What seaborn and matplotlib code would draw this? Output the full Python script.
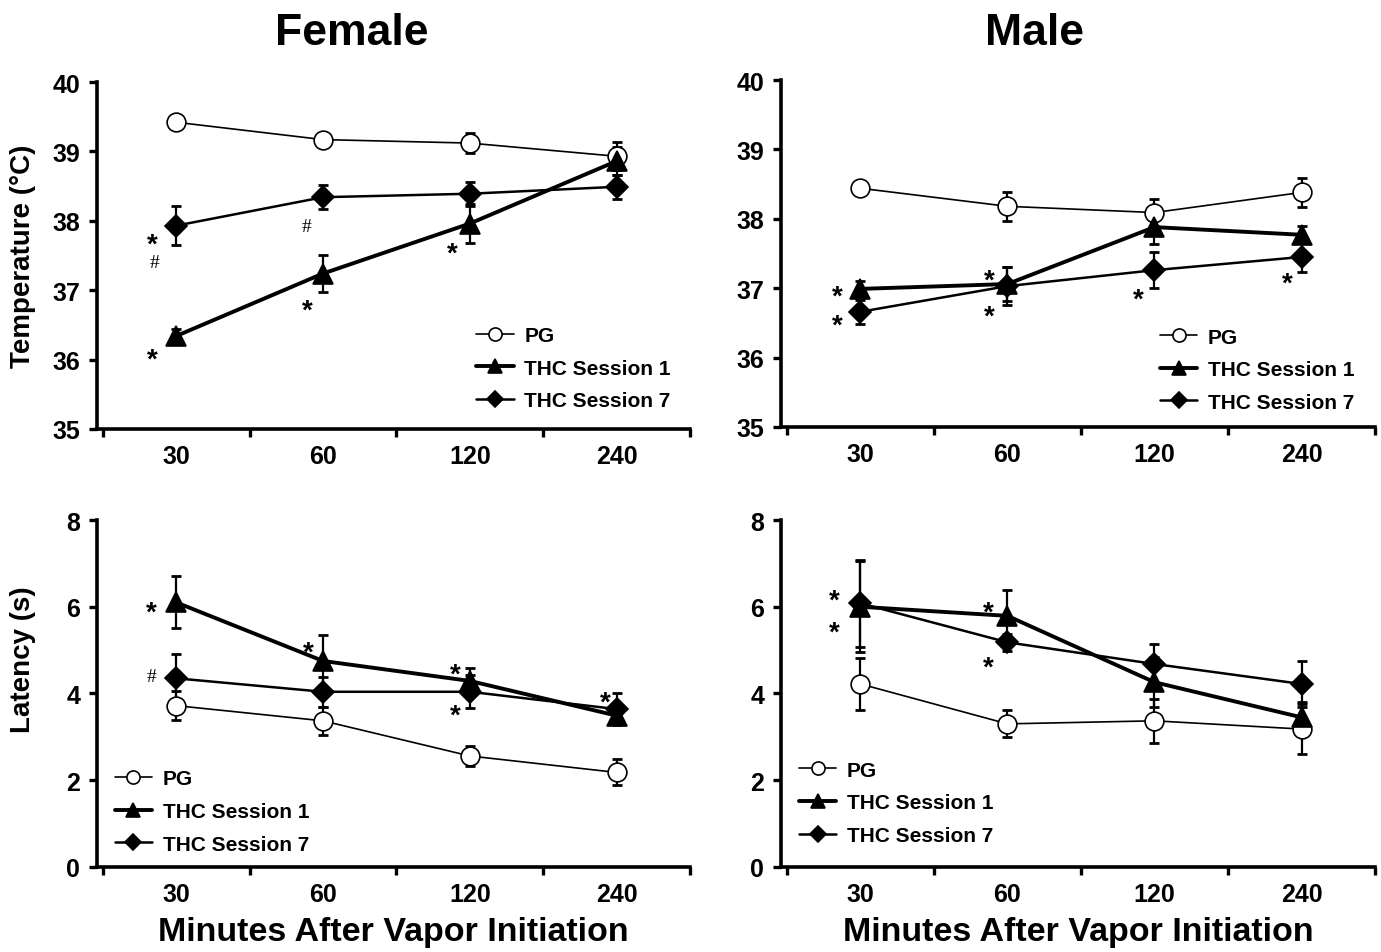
import numpy as np
import pandas as pd
import matplotlib
matplotlib.use("Agg")
import matplotlib.pyplot as plt
import seaborn as sns

# Datos (media y error estandar)
minutes = ["30", "60", "120", "240"]
groups = ["PG", "THC Session 1", "THC Session 7"]

female_temp_pg = [39.42, 39.17, 39.12, 38.93]
female_temp_pg_sem = [0.05, 0.05, 0.15, 0.20]
female_temp_s1 = [36.34, 37.24, 37.96, 38.86]
female_temp_s1_sem = [0.10, 0.26, 0.28, 0.20]
female_temp_s7 = [37.93, 38.34, 38.39, 38.49]
female_temp_s7_sem = [0.28, 0.17, 0.17, 0.17]

male_temp_pg = [38.44, 38.18, 38.09, 38.38]
male_temp_pg_sem = [0.08, 0.21, 0.20, 0.21]
male_temp_s1 = [36.99, 37.06, 37.88, 37.77]
male_temp_s1_sem = [0.12, 0.25, 0.25, 0.12]
male_temp_s7 = [36.66, 37.03, 37.26, 37.45]
male_temp_s7_sem = [0.17, 0.27, 0.26, 0.22]

female_lat_pg = [3.72, 3.37, 2.56, 2.18]
female_lat_pg_sem = [0.34, 0.33, 0.23, 0.30]
female_lat_s1 = [6.10, 4.75, 4.29, 3.49]
female_lat_s1_sem = [0.60, 0.60, 0.30, 0.20]
female_lat_s7 = [4.35, 4.04, 4.04, 3.64]
female_lat_s7_sem = [0.55, 0.35, 0.38, 0.36]

male_lat_pg = [4.22, 3.30, 3.37, 3.18]
male_lat_pg_sem = [0.60, 0.31, 0.50, 0.58]
male_lat_s1 = [6.00, 5.79, 4.26, 3.45]
male_lat_s1_sem = [1.05, 0.60, 0.57, 0.36]
male_lat_s7 = [6.08, 5.18, 4.68, 4.22]
male_lat_s7_sem = [1.00, 0.20, 0.46, 0.53]

# marcas de significancia: (indice de tiempo, valor, simbolo)
female_temp_marks = [(-0.16, 37.78, "*"), (-0.15, 37.43, "#"), (-0.16, 36.12, "*"),
                     (0.89, 37.95, "#"), (0.89, 36.83, "*"), (1.88, 37.64, "*")]
male_temp_marks = [(-0.16, 37.0, "*"), (-0.16, 36.58, "*"), (0.88, 37.23, "*"),
                   (0.88, 36.71, "*"), (1.89, 36.96, "*"), (2.90, 37.18, "*")]
female_lat_marks = [(-0.17, 6.06, "*"), (-0.17, 4.45, "#"), (0.90, 5.14, "*"),
                    (1.90, 4.63, "*"), (1.90, 3.69, "*"), (2.92, 3.99, "*")]
male_lat_marks = [(-0.18, 6.33, "*"), (-0.18, 5.60, "*"), (0.87, 6.06, "*"),
                  (0.87, 4.79, "*")]

sns.set_style("ticks")
plt.rcParams["font.family"] = ["Liberation Sans", "DejaVu Sans"]
plt.rcParams["font.weight"] = "bold"
plt.rcParams["axes.labelweight"] = "bold"
for k in ["text.color", "axes.labelcolor", "xtick.color", "ytick.color", "axes.edgecolor"]:
    plt.rcParams[k] = "black"

styles = {
    "PG": dict(marker="o", markersize=13.5, markerfacecolor="white", lw=1.2),
    "THC Session 1": dict(marker="^", markersize=14, markerfacecolor="black", lw=2.8),
    "THC Session 7": dict(marker="D", markersize=11, markerfacecolor="black", lw=1.8),
}


def draw_panel(ax, series, marks, ylim, yticks, legend_anchor):
    x = np.arange(len(minutes))
    for g, (vals, sem) in zip(groups, series):
        df = pd.DataFrame({"t": x, "v": vals})
        ax.errorbar(x, vals, yerr=sem, fmt="none", ecolor="black",
                    elinewidth=1.6, capsize=3.5, capthick=2, zorder=2)
        sns.lineplot(data=df, x="t", y="v", ax=ax, color="black",
                     markeredgecolor="black", markeredgewidth=1.2,
                     label=g, zorder=3, **styles[g])
    for xi, yi, s in marks:
        if s == "*":
            ax.annotate(s, (xi, yi), xytext=(0, -11), textcoords="offset points",
                        ha="center", va="baseline", fontsize=20, fontweight="bold")
        else:
            ax.annotate(s, (xi, yi), xytext=(0, -5), textcoords="offset points",
                        ha="center", va="baseline", fontsize=14,
                        family="Liberation Serif", fontweight="normal")
    ax.set_xlim(-0.54, 3.5)
    ax.set_ylim(*ylim)
    ax.set_yticks(yticks)
    ax.set_xticks(x)
    ax.set_xticklabels(minutes)
    ax.set_xticks([-0.5, 0.5, 1.5, 2.5, 3.5], minor=True)
    ax.tick_params(axis="x", which="major", length=0, pad=11, labelsize=18)
    ax.tick_params(axis="x", which="minor", length=6, width=2.4, direction="out")
    ax.tick_params(axis="y", which="major", length=6, width=2.4, pad=6, labelsize=18)
    for lab in ax.get_xticklabels() + ax.get_yticklabels():
        lab.set_fontweight("bold")
    sns.despine(ax=ax)
    for sp in ["left", "bottom"]:
        ax.spines[sp].set_linewidth(2.6)
    ax.set_xlabel("")
    ax.set_ylabel("")
    ax.legend(loc="center left", bbox_to_anchor=legend_anchor, frameon=False,
              handlelength=1.8, handletextpad=0.5, labelspacing=0.65,
              borderpad=0, borderaxespad=0, markerscale=0.7,
              prop={"weight": "bold", "size": 15})


fig = plt.figure(figsize=(13.81, 9.53), dpi=100)
ax_ft = fig.add_axes([0.0702, 0.5488, 0.4294, 0.3641])
ax_mt = fig.add_axes([0.5655, 0.5509, 0.4302, 0.3641])
ax_fl = fig.add_axes([0.0702, 0.0892, 0.4294, 0.3641])
ax_ml = fig.add_axes([0.5655, 0.0892, 0.4302, 0.3641])

draw_panel(ax_ft, [(female_temp_pg, female_temp_pg_sem), (female_temp_s1, female_temp_s1_sem),
                   (female_temp_s7, female_temp_s7_sem)],
           female_temp_marks, (35, 40), [35, 36, 37, 38, 39, 40], (0.64, 0.175))
draw_panel(ax_mt, [(male_temp_pg, male_temp_pg_sem), (male_temp_s1, male_temp_s1_sem),
                   (male_temp_s7, male_temp_s7_sem)],
           male_temp_marks, (35, 40), [35, 36, 37, 38, 39, 40], (0.638, 0.165))
draw_panel(ax_fl, [(female_lat_pg, female_lat_pg_sem), (female_lat_s1, female_lat_s1_sem),
                   (female_lat_s7, female_lat_s7_sem)],
           female_lat_marks, (0, 8), [0, 2, 4, 6, 8], (0.03, 0.16))
draw_panel(ax_ml, [(male_lat_pg, male_lat_pg_sem), (male_lat_s1, male_lat_s1_sem),
                   (male_lat_s7, male_lat_s7_sem)],
           male_lat_marks, (0, 8), [0, 2, 4, 6, 8], (0.03, 0.185))

ax_ft.set_ylabel("Temperature (°C)", fontsize=20, fontweight="bold")
ax_fl.set_ylabel("Latency (s)", fontsize=20, fontweight="bold")
ax_ft.yaxis.set_label_coords(-0.103, 0.5)
ax_fl.yaxis.set_label_coords(-0.103, 0.6)
for ax in (ax_fl, ax_ml):
    ax.set_xlabel("Minutes After Vapor Initiation", fontsize=24.5, fontweight="bold", labelpad=7)

fig.text(352 / 1381, 1 - 45 / 953, "Female", ha="center", va="baseline",
         fontsize=32, fontweight="bold")
fig.text(1035 / 1381, 1 - 45 / 953, "Male", ha="center", va="baseline",
         fontsize=32, fontweight="bold")

plt.savefig("out.png", dpi=100)
